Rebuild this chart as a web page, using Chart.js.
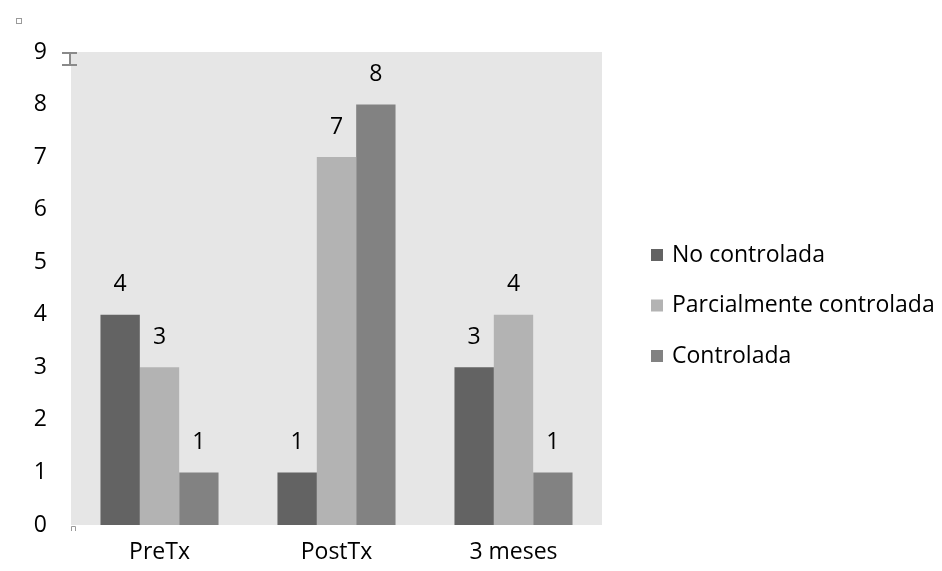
<!DOCTYPE html>
<html>
<head>
<meta charset="utf-8">
<script src="https://cdn.jsdelivr.net/npm/chart.js@4"></script>
<style>
  html, body { margin: 0; padding: 0; background: #ffffff; }
  #wrap { width: 942px; height: 571px; }
</style>
</head>
<body>
<div id="wrap"><canvas id="c" width="942" height="571"></canvas></div>
<script>
const categories = ['PreTx', 'PostTx', '3 meses'];
const noControlada = [4, 1, 3];
const parcialmenteControlada = [3, 7, 4];
const controlada = [1, 8, 1];
const seriesNames = ['No controlada', 'Parcialmente controlada', 'Controlada'];
const yTicks = [0, 1, 2, 3, 4, 5, 6, 7, 8, 9];

const FONT = "'Open Sans', 'Liberation Sans', sans-serif";
const FONT_SIZE = 23;

// gray plot background
const plotBackground = {
  id: 'plotBackground',
  beforeDraw(chart) {
    const { ctx, chartArea: a } = chart;
    ctx.save();
    ctx.fillStyle = '#e6e6e6';
    ctx.fillRect(a.left, a.top, a.right - a.left, a.bottom - a.top);
    // small selection handles of the embedded chart frame
    ctx.strokeStyle = '#9a9a9a';
    ctx.lineWidth = 1;
    ctx.strokeRect(16.5, 18.5, 5, 5);
    ctx.strokeStyle = '#8a8a8a';
    ctx.lineWidth = 2;
    ctx.beginPath();
    ctx.moveTo(62, 53); ctx.lineTo(77, 53);
    ctx.moveTo(62, 65); ctx.lineTo(77, 65);
    ctx.moveTo(70, 53); ctx.lineTo(70, 65);
    ctx.stroke();
    ctx.lineWidth = 1;
    ctx.strokeStyle = '#9a9a9a';
    ctx.beginPath();
    ctx.moveTo(71.5, 531); ctx.lineTo(71.5, 526.5); ctx.lineTo(75.5, 526.5); ctx.lineTo(75.5, 531);
    ctx.stroke();
    ctx.restore();
  }
};

// value labels above each bar
const valueLabels = {
  id: 'valueLabels',
  afterDatasetsDraw(chart) {
    const { ctx } = chart;
    ctx.save();
    ctx.fillStyle = '#000000';
    ctx.font = FONT_SIZE + 'px ' + FONT;
    ctx.textAlign = 'center';
    ctx.textBaseline = 'middle';
    chart.data.datasets.forEach((ds, i) => {
      chart.getDatasetMeta(i).data.forEach((bar, j) => {
        ctx.fillText(String(ds.data[j]), bar.x, bar.y - 30);
      });
    });
    ctx.restore();
  }
};

// vertical legend to the right of the plot
const sideLegend = {
  id: 'sideLegend',
  afterDraw(chart) {
    const { ctx } = chart;
    const x0 = 651, y0 = 255, step = 50.5, box = 12;
    ctx.save();
    ctx.font = FONT_SIZE + 'px ' + FONT;
    ctx.textAlign = 'left';
    ctx.textBaseline = 'middle';
    chart.data.datasets.forEach((ds, i) => {
      const y = y0 + i * step;
      ctx.fillStyle = ds.backgroundColor;
      ctx.fillRect(x0, y - box / 2, box, box);
      ctx.fillStyle = '#000000';
      ctx.fillText(ds.label, x0 + 21, y);
    });
    ctx.restore();
  }
};

new Chart(document.getElementById('c'), {
  type: 'bar',
  data: {
    labels: categories,
    datasets: [
      { label: seriesNames[0], data: noControlada, backgroundColor: '#636363', borderWidth: 0 },
      { label: seriesNames[1], data: parcialmenteControlada, backgroundColor: '#b3b3b3', borderWidth: 0 },
      { label: seriesNames[2], data: controlada, backgroundColor: '#828282', borderWidth: 0 }
    ]
  },
  options: {
    responsive: false,
    animation: false,
    devicePixelRatio: 1,
    layout: { padding: { top: 52, left: 0, right: 340, bottom: 0 } },
    datasets: {
      bar: { barPercentage: 1.0, categoryPercentage: 0.667 }
    },
    scales: {
      x: {
        grid: { display: false, drawTicks: false },
        border: { display: false },
        ticks: { color: '#000000', font: { family: FONT, size: FONT_SIZE }, padding: 14 },
        afterFit(axis) { axis.height = 46; }
      },
      y: {
        min: 0,
        max: 9,
        afterBuildTicks(axis) { axis.ticks = yTicks.map(v => ({ value: v })); },
        grid: { display: false, drawTicks: false },
        border: { display: false },
        ticks: { color: '#000000', font: { family: FONT, size: FONT_SIZE }, padding: 24 },
        afterFit(axis) { axis.width = 71; }
      }
    },
    plugins: {
      legend: { display: false },
      tooltip: { enabled: false }
    }
  },
  plugins: [plotBackground, valueLabels, sideLegend]
});
</script>
</body>
</html>
